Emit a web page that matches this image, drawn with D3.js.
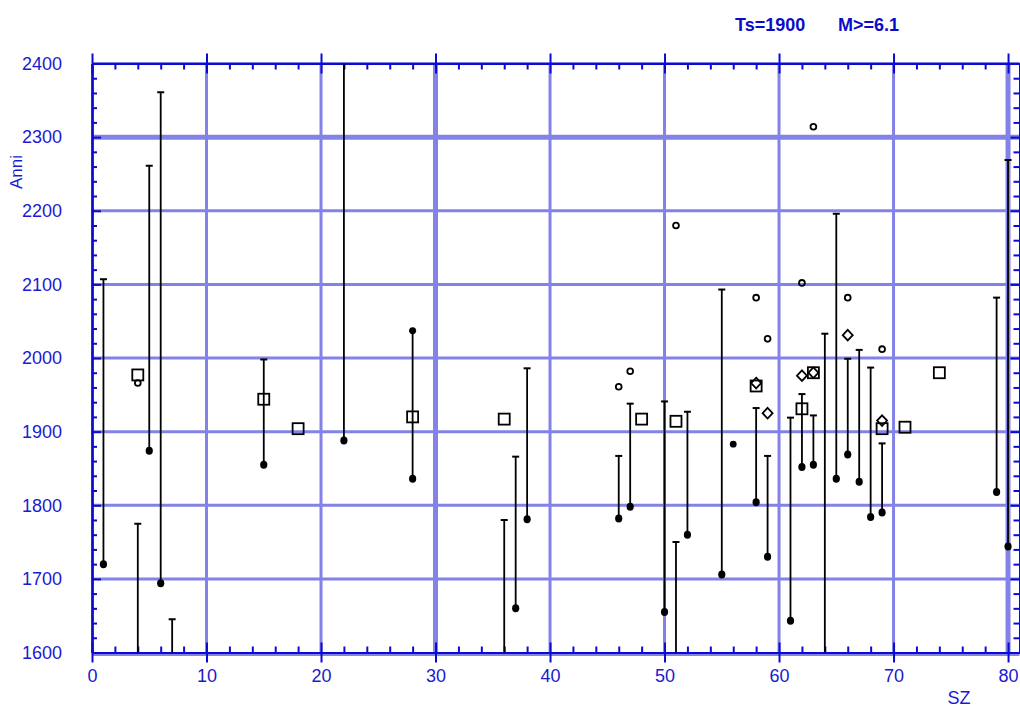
<!DOCTYPE html>
<html lang="en">
<head>
  <meta charset="UTF-8" />
  <title>SZ - Anni</title>
  <script src="https://d3js.org/d3.v7.min.js"></script>
  <style>
    body {
      margin: 0;
      padding: 0;
      background: #fff;
      font-family: "Liberation Sans", Arial, sans-serif;
    }

    .grid line {
      stroke: #8282e8;
      stroke-width: 3;
    }

    .axis path,
    .axis line {
      stroke: #0a0ad2;
      stroke-width: 2;
      fill: none;
    }

    .axis text {
      fill: #1a1ad0;
      font-size: 18px;
      font-family: "Liberation Sans", Arial, sans-serif;
    }

    .label {
      fill: #1a1ad0;
      font-size: 17px;
    }

    .title {
      fill: #0c0cc8;
      font-size: 18px;
      font-weight: bold;
    }
  </style>
</head>
<body>
  <script>
    // vertical segments: SZ, lower year (dot), upper year (cap)
    var barX = [1, 4, 5, 6, 7, 15, 22, 28, 36, 37, 38, 46, 47, 50, 51, 52, 55, 58, 59, 61, 62, 63, 64, 65, 66, 67, 68, 69, 79, 80];
    var barLow = [1720, 1560, 1874, 1694, 1560, 1855, 1888, 1836, 1560, 1660, 1781, 1782, 1798, 1655, 1560, 1760, 1706, 1804, 1730, 1643, 1852, 1855, 1560, 1836, 1869, 1832, 1784, 1790, 1818, 1744];
    var barHigh = [2107, 1775, 2261, 2361, 1645, 1998, 2450, 2037, 1780, 1866, 1986, 1867, 1938, 1941, 1750, 1927, 2093, 1932, 1867, 1919, 1951, 1922, 2033, 2196, 1999, 2011, 1987, 1884, 2082, 2269];

    // lone filled dots
    var dotX = [28, 56];
    var dotY = [2037, 1883];

    // open squares
    var squareX = [4, 15, 18, 28, 36, 48, 51, 58, 62, 63, 69, 71, 74];
    var squareY = [1977, 1944, 1904, 1920, 1917, 1917, 1914, 1962, 1931, 1980, 1904, 1906, 1980];

    // open circles
    var circleX = [4, 46, 47, 51, 58, 59, 62, 63, 66, 69];
    var circleY = [1966, 1961, 1982, 2180, 2082, 2026, 2102, 2314, 2082, 2012];

    // open diamonds
    var diamondX = [58, 59, 62, 63, 66, 69];
    var diamondY = [1966, 1925, 1976, 1980, 2031, 1915];

    var xMajor = [0, 10, 20, 30, 40, 50, 60, 70, 80];
    var xMinor = d3.range(2, 81, 2).filter(function (v) { return v % 10 !== 0; });
    var yMajor = [1600, 1700, 1800, 1900, 2000, 2100, 2200, 2300, 2400];
    var yMinor = d3.range(1620, 2400, 20).filter(function (v) { return v % 100 !== 0; });

    var width = 1020, height = 709;
    var pLeft = 92, pRight = 1019.5, pTop = 63.5, pBottom = 652.5;

    var x = d3.scaleLinear().domain([0, 81]).range([pLeft, pRight]);
    var y = d3.scaleLinear().domain([1600, 2400]).range([pBottom, pTop]);

    var svg = d3.select("body").append("svg")
      .attr("width", width)
      .attr("height", height);

    svg.append("clipPath").attr("id", "plot")
      .append("rect")
      .attr("x", pLeft).attr("y", pTop)
      .attr("width", pRight - pLeft).attr("height", pBottom - pTop);

    // grid
    var grid = svg.append("g").attr("class", "grid");
    grid.selectAll(".gx").data(xMajor.slice(1)).enter().append("line")
      .attr("x1", function (d) { return x(d); })
      .attr("x2", function (d) { return x(d); })
      .attr("y1", pTop).attr("y2", pBottom + 2)
      .style("stroke-width", function (d) { return d === 30 || d === 80 ? 5 : 3; });
    grid.selectAll(".gy").data(yMajor).enter().append("line")
      .attr("x1", pLeft).attr("x2", pRight)
      .attr("y1", function (d) { return y(d) + (d === 1600 ? 2 : 0); })
      .attr("y2", function (d) { return y(d) + (d === 1600 ? 2 : 0); })
      .style("stroke-width", function (d) { return d === 2300 ? 5 : 3; });

    // axes
    function axisAt(gen, tx, ty) {
      return svg.append("g").attr("class", "axis")
        .attr("transform", "translate(" + tx + "," + ty + ")")
        .call(gen);
    }

    // top
    axisAt(d3.axisTop(x).tickValues(xMajor).tickSize(10).tickSizeOuter(0).tickFormat(""), 0, pTop);
    axisAt(d3.axisBottom(x).tickValues(xMajor).tickSize(10).tickSizeOuter(0).tickFormat(""), 0, pTop);
    axisAt(d3.axisBottom(x).tickValues(xMinor).tickSize(6).tickSizeOuter(0).tickFormat(""), 0, pTop);

    // bottom
    axisAt(d3.axisBottom(x).tickValues(xMajor).tickSize(10).tickSizeOuter(0).tickPadding(7), 0, pBottom);
    axisAt(d3.axisTop(x).tickValues(xMajor).tickSize(10).tickSizeOuter(0).tickFormat(""), 0, pBottom);
    axisAt(d3.axisTop(x).tickValues(xMinor).tickSize(6).tickSizeOuter(0).tickFormat(""), 0, pBottom);

    // left
    axisAt(d3.axisLeft(y).tickValues(yMajor).tickSize(0).tickSizeOuter(0).tickPadding(30).tickFormat(d3.format("d")), pLeft, 0);
    axisAt(d3.axisRight(y).tickValues(yMajor).tickSize(9).tickSizeOuter(0).tickFormat(""), pLeft, 0);
    axisAt(d3.axisRight(y).tickValues(yMinor).tickSize(5).tickSizeOuter(0).tickFormat(""), pLeft, 0);

    // right
    axisAt(d3.axisLeft(y).tickValues(yMajor).tickSize(9).tickSizeOuter(0).tickFormat(""), pRight, 0);
    axisAt(d3.axisLeft(y).tickValues(yMinor).tickSize(6).tickSizeOuter(0).tickFormat(""), pRight, 0);

    // data
    var bars = barX.map(function (d, i) { return { x: d, lo: barLow[i], hi: barHigh[i] }; });
    var plot = svg.append("g").attr("clip-path", "url(#plot)");

    plot.selectAll(".seg").data(bars).enter().append("line")
      .attr("x1", function (d) { return x(d.x); })
      .attr("x2", function (d) { return x(d.x); })
      .attr("y1", function (d) { return y(d.lo); })
      .attr("y2", function (d) { return y(d.hi); })
      .attr("stroke", "#000").attr("stroke-width", 1.8);

    plot.selectAll(".cap").data(bars).enter().append("line")
      .attr("x1", function (d) { return x(d.x) - 3.5; })
      .attr("x2", function (d) { return x(d.x) + 3.5; })
      .attr("y1", function (d) { return y(d.hi); })
      .attr("y2", function (d) { return y(d.hi); })
      .attr("stroke", "#000").attr("stroke-width", 2);

    plot.selectAll(".lo").data(bars).enter().append("ellipse")
      .attr("cx", function (d) { return x(d.x); })
      .attr("cy", function (d) { return y(d.lo); })
      .attr("rx", 3.6).attr("ry", 4)
      .attr("fill", "#000");

    plot.selectAll(".dot").data(dotX).enter().append("ellipse")
      .attr("cx", function (d) { return x(d); })
      .attr("cy", function (d, i) { return y(dotY[i]); })
      .attr("rx", 3.4).attr("ry", 3.4)
      .attr("fill", "#000");

    plot.selectAll(".sq").data(squareX).enter().append("rect")
      .attr("x", function (d) { return x(d) - 5.5; })
      .attr("y", function (d, i) { return y(squareY[i]) - 5.5; })
      .attr("width", 11).attr("height", 11)
      .attr("fill", "none").attr("stroke", "#000").attr("stroke-width", 1.8);

    plot.selectAll(".ci").data(circleX).enter().append("circle")
      .attr("cx", function (d) { return x(d); })
      .attr("cy", function (d, i) { return y(circleY[i]); })
      .attr("r", 2.9)
      .attr("fill", "none").attr("stroke", "#000").attr("stroke-width", 1.8);

    plot.selectAll(".di").data(diamondX).enter().append("path")
      .attr("d", function (d, i) {
        var cx = x(d), cy = y(diamondY[i]);
        return "M" + cx + "," + (cy - 5.3) + "L" + (cx + 5) + "," + cy +
          "L" + cx + "," + (cy + 5.3) + "L" + (cx - 5) + "," + cy + "Z";
      })
      .attr("fill", "none").attr("stroke", "#000").attr("stroke-width", 1.8);

    // labels
    svg.append("text").attr("class", "label")
      .attr("transform", "translate(22,172) rotate(-90)")
      .attr("text-anchor", "middle")
      .text("Anni");

    svg.append("text").attr("class", "label")
      .attr("x", 959).attr("y", 704)
      .attr("text-anchor", "middle")
      .style("font-size", "18px")
      .text("SZ");

    svg.append("text").attr("class", "title")
      .attr("x", 735).attr("y", 31)
      .text("Ts=1900");
    svg.append("text").attr("class", "title")
      .attr("x", 838).attr("y", 31)
      .text("M>=6.1");
  </script>
</body>
</html>
